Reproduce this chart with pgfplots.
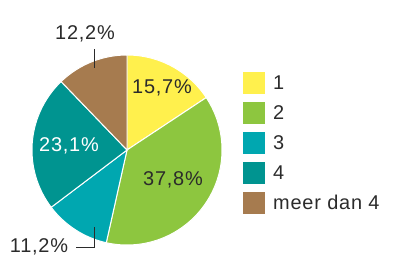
\documentclass[border=0pt]{standalone}
\usepackage{pgfplots}
\pgfplotsset{compat=1.18}
\usepackage{fontspec}
\setmainfont[LetterSpace=4]{Liberation Sans}
\definecolor{cOne}{HTML}{FFF04D}
\definecolor{cTwo}{HTML}{8DC63F}
\definecolor{cThree}{HTML}{00A7B0}
\definecolor{cFour}{HTML}{009490}
\definecolor{cFive}{HTML}{A67B4F}
\definecolor{txt}{HTML}{2B2B2B}
\begin{document}
\begin{tikzpicture}
% shares in percent, clockwise from the top
\pgfmathsetmacro\aA{0}
\pgfmathsetmacro\aB{\aA+3.6*15.7}
\pgfmathsetmacro\aC{\aB+3.6*37.8}
\pgfmathsetmacro\aD{\aC+3.6*11.2}
\pgfmathsetmacro\aE{\aD+3.6*23.1}
\pgfmathsetmacro\aF{\aE+3.6*12.2}
\begin{axis}[
  x=1bp, y=1bp, xmin=0, xmax=394, ymin=0, ymax=256, y dir=reverse,
  enlargelimits=false, hide axis, clip=false,
  legend cell align=left,
  legend image code/.code={\path[#1,draw=none] (0bp,-11bp) rectangle (22bp,11bp);},
  legend style={at={(axis cs:243,72)}, anchor=north west, draw=none, fill=none,
    inner sep=0pt, row sep=8bp, column sep=6bp,
    font=\fontsize{20}{22}\selectfont, text=txt},
]
\addplot[fill=cOne, draw=white, line width=1pt, domain=\aA:\aB, samples=40]
  ({127+95*sin(x)}, {150-95*cos(x)}) -- (axis cs:127,150) -- cycle;
\addlegendentry{1}
\addplot[fill=cTwo, draw=white, line width=1pt, domain=\aB:\aC, samples=80]
  ({127+95*sin(x)}, {150-95*cos(x)}) -- (axis cs:127,150) -- cycle;
\addlegendentry{2}
\addplot[fill=cThree, draw=white, line width=1pt, domain=\aC:\aD, samples=30]
  ({127+95*sin(x)}, {150-95*cos(x)}) -- (axis cs:127,150) -- cycle;
\addlegendentry{3}
\addplot[fill=cFour, draw=white, line width=1pt, domain=\aD:\aE, samples=60]
  ({127+95*sin(x)}, {150-95*cos(x)}) -- (axis cs:127,150) -- cycle;
\addlegendentry{4}
\addplot[fill=cFive, draw=white, line width=1pt, domain=\aE:\aF, samples=30]
  ({127+95*sin(x)}, {150-95*cos(x)}) -- (axis cs:127,150) -- cycle;
\addlegendentry{meer dan 4}
\path (axis cs:0,0) rectangle (axis cs:394,256);
\draw[txt, line width=0.9pt] (axis cs:94,49) -- (axis cs:94,68);
\draw[txt, line width=0.9pt] (axis cs:76,247) -- (axis cs:94,247) -- (axis cs:94,227);
\tikzset{lab/.style={font=\fontsize{20}{22}\selectfont, inner sep=0pt}}
\node[lab, text=txt] at (axis cs:162,88) {15,7\%};
\node[lab, text=txt] at (axis cs:173,180) {37,8\%};
\node[lab, text=white] at (axis cs:69,146) {23,1\%};
\node[lab, text=txt] at (axis cs:85,34) {12,2\%};
\node[lab, text=txt] at (axis cs:39,247) {11,2\%};
\end{axis}
\end{tikzpicture}
\end{document}
